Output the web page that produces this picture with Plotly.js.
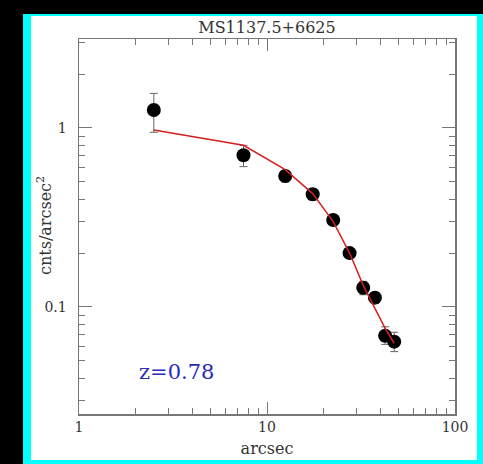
<!DOCTYPE html>
<html>
<head>
<meta charset="utf-8">
<script src="https://cdn.plot.ly/plotly-3.0.1.min.js"></script>
<style>
  html, body { margin: 0; padding: 0; background: #000; }
  #chart { width: 483px; height: 464px; }
</style>
</head>
<body>
<div id="chart"></div>
<script>
// Radial surface-brightness profile of MS1137.5+6625
const radius = [2.5, 7.5, 12.5, 17.5, 22.5, 27.5, 32.5, 37.5, 42.5, 47.5];
const brightness = [1.26, 0.704, 0.539, 0.426, 0.306, 0.200, 0.128, 0.1127, 0.069, 0.064];
const errPlus = [0.30, 0.096, 0.04, 0.03, 0.02, 0.012, 0.011, 0.008, 0.0085, 0.0082];
const errMinus = [0.314, 0.096, 0.04, 0.03, 0.02, 0.012, 0.011, 0.008, 0.0072, 0.0077];
const modelRadius = [2.5, 7.5, 12.5, 17.5, 22.5, 27.5, 32.5, 37.5, 42.5, 47.5];
const modelValues = [0.975, 0.80, 0.585, 0.43, 0.30, 0.20, 0.132, 0.098, 0.076, 0.0627];
const xTickVals = [1, 10, 100];
const xTickText = ['1', '10', '100'];
const xMinorVals = [2, 3, 4, 5, 6, 7, 8, 9, 20, 30, 40, 50, 60, 70, 80, 90];
const yTickVals = [0.1, 1];
const yTickText = ['0.1', '1'];
const yMinorVals = [0.03, 0.04, 0.05, 0.06, 0.07, 0.08, 0.09, 0.2, 0.3, 0.4, 0.5, 0.6, 0.7, 0.8, 0.9, 2, 3];
const chartTitle = 'MS1137.5+6625';
const xTitle = 'arcsec';
const yTitle = 'cnts/arcsec<sup>2</sup>';
const redshiftLabel = 'z=0.78';

const axisColor = '#777777';
const serif = 'DejaVu Serif, serif';

const data = [
  {
    x: radius, y: brightness, type: 'scatter', mode: 'markers',
    marker: { color: '#000000', size: 14, line: { width: 0 } },
    error_y: { type: 'data', symmetric: false, array: errPlus, arrayminus: errMinus,
               color: '#666666', thickness: 1, width: 4 },
    hoverinfo: 'x+y', showlegend: false
  },
  {
    x: modelRadius, y: modelValues, type: 'scatter', mode: 'lines',
    line: { color: '#d42020', width: 1.5 },
    hoverinfo: 'x+y', showlegend: false
  }
];

const L = 79, R = 455, T = 39, B = 414, W = 483, H = 464;
const pw = R - L, ph = B - T;
function px(x) { return (x - L) / pw; }
function py(y) { return (B - y) / ph; }

const layout = {
  width: W, height: H,
  margin: { l: L, r: W - R, t: T, b: H - B, pad: 0 },
  paper_bgcolor: '#000000',
  plot_bgcolor: 'rgba(0,0,0,0)',
  showlegend: false,
  title: { text: chartTitle, font: { family: serif, size: 16, color: '#333333' },
           x: 0.5, xanchor: 'center', xref: 'paper', y: 1 - 27 / H, yanchor: 'middle' },
  xaxis: {
    type: 'log', range: [0, 2], tickmode: 'array', tickvals: xTickVals, ticktext: xTickText,
    ticks: 'inside', ticklen: 12, tickwidth: 1, tickcolor: axisColor,
    showline: true, linecolor: axisColor, linewidth: 1.5, mirror: 'ticks',
    showgrid: false, zeroline: false,
    minor: { tickmode: 'array', tickvals: xMinorVals, ticks: 'inside', ticklen: 6,
             tickwidth: 1, tickcolor: axisColor, showgrid: false },
    tickfont: { family: serif, size: 14, color: '#333333' },
    title: { text: xTitle, font: { family: serif, size: 16, color: '#333333' }, standoff: 8 },
    automargin: false
  },
  yaxis: {
    type: 'log', range: [-1.598, 0.497], tickmode: 'array', tickvals: yTickVals, ticktext: yTickText,
    ticks: 'inside', ticklen: 13, tickwidth: 1, tickcolor: axisColor,
    showline: true, linecolor: axisColor, linewidth: 1.5, mirror: 'ticks',
    showgrid: false, zeroline: false,
    minor: { tickmode: 'array', tickvals: yMinorVals, ticks: 'inside', ticklen: 6,
             tickwidth: 1, tickcolor: axisColor, showgrid: false },
    tickfont: { family: serif, size: 14, color: '#333333' },
    ticklabelstandoff: 8,
    automargin: false
  },
  shapes: [
    { type: 'rect', xref: 'paper', yref: 'paper', layer: 'below',
      x0: px(23), x1: px(483), y0: py(464), y1: py(14),
      fillcolor: '#00ffff', line: { width: 0 } },
    { type: 'rect', xref: 'paper', yref: 'paper', layer: 'below',
      x0: px(31), x1: px(477), y0: py(460), y1: py(16),
      fillcolor: '#ffffff', line: { width: 0 } }
  ],
  annotations: [
    { text: yTitle, xref: 'paper', yref: 'paper',
      x: px(44), y: py(226), xanchor: 'center', yanchor: 'middle', textangle: -90,
      showarrow: false, font: { family: serif, size: 16, color: '#333333' } },
    { text: redshiftLabel, xref: 'paper', yref: 'paper',
      x: px(137), y: py(372), xanchor: 'left', yanchor: 'middle',
      showarrow: false, font: { family: serif, size: 21, color: '#2a2ab8' } }
  ]
};

Plotly.newPlot('chart', data, layout, { staticPlot: true, displayModeBar: false });
</script>
</body>
</html>
